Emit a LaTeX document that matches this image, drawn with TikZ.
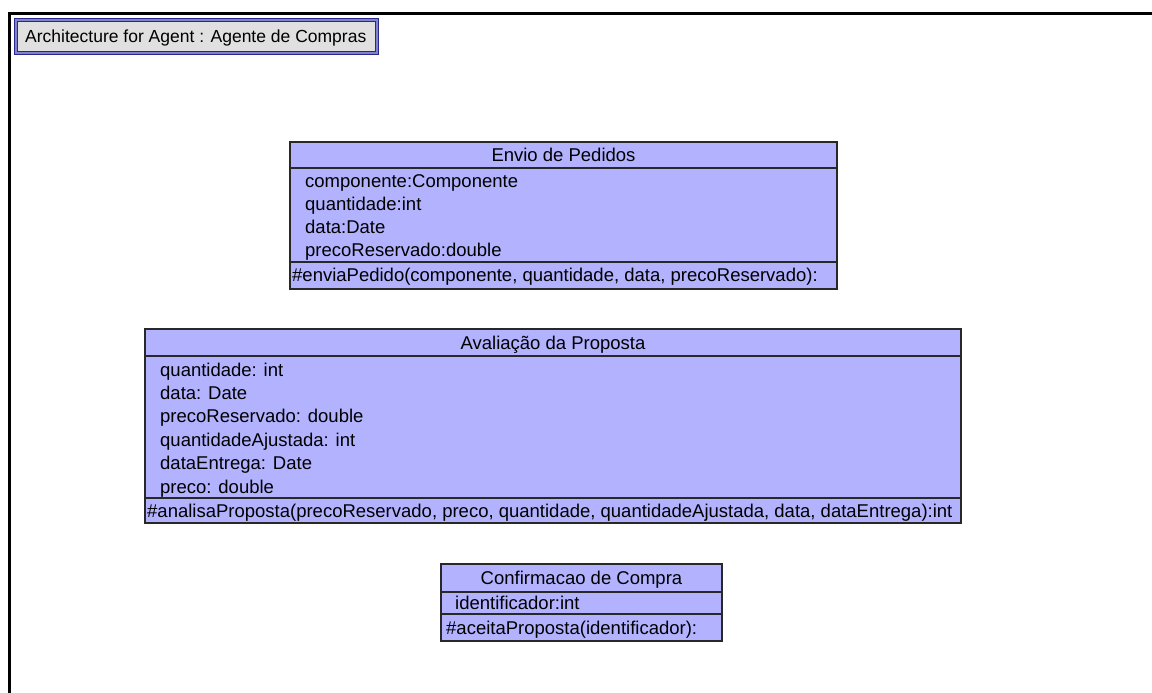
\documentclass[tikz,border=0pt]{standalone}
\usepackage{fontspec}
\setmainfont{Liberation Sans}
\newcommand{\umlsize}{\fontsize{18.5pt}{22pt}\selectfont}
\newcommand{\titlesize}{\fontsize{17.5pt}{21pt}\selectfont}
\definecolor{umlfill}{RGB}{178,178,255}
\definecolor{umlborder}{RGB}{40,40,40}
\definecolor{navyline}{RGB}{40,40,140}
\definecolor{navymid}{RGB}{130,130,200}
\definecolor{titlefill}{RGB}{224,224,224}
\tikzset{
  lbl/.style={inner sep=0pt, font=\umlsize, anchor=base west},
  titlelbl/.style={inner sep=0pt, font=\titlesize, anchor=base west},
  hdr/.style={inner sep=0pt, font=\umlsize, anchor=base},
  umlbox/.style={fill=umlfill, draw=umlborder, line width=2pt},
  umlsep/.style={draw=umlborder, line width=1.5pt},
}
\begin{document}
\begin{tikzpicture}[x=1pt,y=-1pt]
\useasboundingbox (0,0) rectangle (1152,693);
\fill[white] (0,0) rectangle (1152,693);
% frame
\draw[line width=3pt] (9.5,693) -- (9.5,14) -- (1152,14);
% title box
\filldraw[fill=navymid, draw=navyline, line width=1pt] (14.5,18.5) rectangle (378.5,54.5);
\filldraw[fill=titlefill, draw=navyline, line width=1pt] (17.5,21.5) rectangle (375.5,51.5);
\node[titlelbl] (title) at (25,43) {Architecture for Agent : Agente de Compras};

% Envio de Pedidos
\draw[umlbox] (290,142) rectangle (837,289);
\draw[umlsep] (290,168) -- (837,168);
\draw[umlsep] (290,262) -- (837,262);
\node[hdr] (envH) at (563.5,161) {Envio de Pedidos};
\node[lbl] (envA1) at (305,187) {componente:Componente};
\node[lbl] (envA2) at (305,210) {quantidade:int};
\node[lbl] (envA3) at (305,233) {data:Date};
\node[lbl] (envA4) at (305,256) {precoReservado:double};
\node[lbl] (envM1) at (292,281) {\#enviaPedido(componente, quantidade, data, precoReservado):};

% Avaliacao da Proposta
\draw[umlbox] (145,329) rectangle (961,523);
\draw[umlsep] (145,356) -- (961,356);
\draw[umlsep] (145,498) -- (961,498);
\node[hdr] (avaH) at (553,349) {Avaliação da Proposta};
\node[lbl] (avaA1) at (160,376) {quantidade: int};
\node[lbl] (avaA2) at (160,399) {data: Date};
\node[lbl] (avaA3) at (160,422) {precoReservado: double};
\node[lbl] (avaA4) at (160,446) {quantidadeAjustada: int};
\node[lbl] (avaA5) at (160,469) {dataEntrega: Date};
\node[lbl] (avaA6) at (160,493) {preco: double};
\node[lbl] (avaM1) at (147,517) {\#analisaProposta(precoReservado, preco, quantidade, quantidadeAjustada, data, dataEntrega):int};

% Confirmacao de Compra
\draw[umlbox] (441,564) rectangle (722,641);
\draw[umlsep] (441,592) -- (722,592);
\draw[umlsep] (441,614) -- (722,614);
\node[hdr] (conH) at (581.5,584) {Confirmacao de Compra};
\node[lbl] (conA1) at (455,609) {identificador:int};
\node[lbl] (conM1) at (446,634) {\#aceitaProposta(identificador):};
\end{tikzpicture}
\end{document}
